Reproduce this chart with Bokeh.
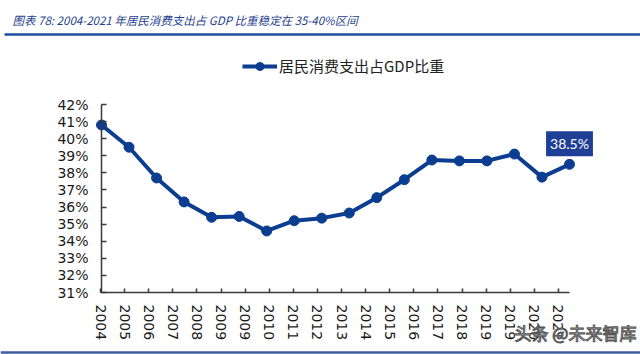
import math
from bokeh.plotting import figure
from bokeh.models import (Range1d, LinearAxis, FixedTicker, PrintfTickFormatter,
                          Legend, LegendItem, Label)
from bokeh.embed import file_html
from bokeh.resources import INLINE

# ---------------- data ----------------
years = [2004, 2005, 2006, 2007, 2008, 2009, 2010, 2011, 2012,
         2013, 2014, 2015, 2016, 2017, 2018, 2019, 2020, 2021]
share = [40.8, 39.5, 37.7, 36.3, 35.4, 35.45, 34.6, 35.2, 35.35,
         35.65, 36.55, 37.6, 38.75, 38.7, 38.7, 39.1, 37.75, 38.5]
axis_labels = ["2004", "2005", "2006", "2007", "2008", "2009", "2009", "2010",
               "2011", "2012", "2013", "2014", "2015", "2016", "2017", "2018",
               "2019", "2019", "2020", "2021"]
y_ticks = [31, 32, 33, 34, 35, 36, 37, 38, 39, 40, 41, 42]
title_text = "图表 78:  2004-2021 年居民消费支出占 GDP 比重稳定在 35-40%区间"
series_name = "居民消费支出占GDP比重"
watermark = "头条 @未来智库"

# ---------------- layout constants (page pixels) ----------------
W, H = 640, 354
PL, PR, PT, PB = 101, 569, 104, 292      # plotting box
LAB0, LAB_STEP = 100, 24.1               # category-label axis placement
TITLE_RULE_Y, BOTTOM_RULE_Y = 34, 352    # decorative rules

BLUE = "#0B3D91"
AX = "#3A3A3A"
TICK_FONT = "DejaVu Sans"

xs = (PR - PL) / (years[-1] - years[0])
ys = (PB - PT) / (y_ticks[-1] - y_ticks[0])
x_range = Range1d(years[0] - PL / xs, years[-1] + (W - PR) / xs)
y_range = Range1d(y_ticks[0] - (H - PB) / ys, y_ticks[-1] + PT / ys)


def page_y(py):
    return y_ticks[-1] + (PT - py) / ys


def page_x(px):
    return years[0] + (px - PL) / xs


p = figure(width=W, height=H, x_range=x_range, y_range=y_range,
           x_axis_type=None, y_axis_type=None, output_backend="svg",
           toolbar_location=None, min_border=0, outline_line_color=None)

# decorative rules (title underline, bottom border)
p.hbar(y=[page_y(TITLE_RULE_Y)], height=2.6 / ys, left=[page_x(4)], right=[page_x(W)],
       fill_color="#1F4E9C", line_color=None)
p.rect(x=[page_x(W / 2)], y=[page_y(BOTTOM_RULE_Y)], width=W, height=2.5,
       width_units="screen", height_units="screen",
       fill_color="#3B5F9F", line_color=None)

# y axis
ya = LinearAxis(fixed_location=years[0], bounds=(y_ticks[0], y_ticks[-1]),
                ticker=FixedTicker(ticks=y_ticks),
                formatter=PrintfTickFormatter(format="%d%%"),
                minor_tick_line_color=None, major_tick_in=5, major_tick_out=0,
                axis_line_color=AX, axis_line_width=1.5,
                major_tick_line_color=AX, major_tick_line_width=1.5,
                major_label_standoff=13, major_label_text_font=TICK_FONT,
                major_label_text_font_size="14px", major_label_text_color="#1A1A1A")
p.add_layout(ya, "left")

# x axis (category labels on their own scale)
p.extra_x_ranges = {"lab": Range1d(-LAB0 / LAB_STEP, (W - LAB0) / LAB_STEP)}
xa = LinearAxis(x_range_name="lab", fixed_location=y_ticks[0],
                bounds=(0, (PR - LAB0) / LAB_STEP),
                ticker=FixedTicker(ticks=list(range(len(axis_labels)))),
                major_label_overrides={i: s for i, s in enumerate(axis_labels)},
                major_label_orientation=-math.pi / 2,
                major_tick_in=4, major_tick_out=0,
                minor_tick_line_color=None,
                axis_line_color=AX, axis_line_width=1.5,
                major_tick_line_color=AX, major_tick_line_width=1.5,
                major_label_standoff=12, major_label_text_font=TICK_FONT,
                major_label_text_font_size="14px", major_label_text_color="#1A1A1A")
p.add_layout(xa, "below")

# series
r_line = p.line(years, share, line_color=BLUE, line_width=4)
r_pts = p.scatter(years, share, size=10, fill_color=BLUE, line_color=BLUE)

legend = Legend(items=[LegendItem(label=series_name, renderers=[r_line, r_pts])],
                location=(242, H - 66 - 10), orientation="horizontal", padding=0,
                margin=0, spacing=0, glyph_width=35, glyph_height=20, label_standoff=2,
                border_line_color=None, background_fill_alpha=0,
                label_text_font="Noto Sans CJK SC",
                label_text_font_size="15px", label_text_color="#222222")
p.add_layout(legend)

last = Label(x=years[-1], y=share[-1], text=f"{share[-1]}%", text_align="center",
             text_baseline="bottom", y_offset=8, padding=4,
             background_fill_color="#1F3F96", text_color="white",
             text_font="Lato", text_font_size="14px")
p.add_layout(last)

# title
p.add_layout(Label(x=12, y=H - 19, x_units="screen", y_units="screen", text=title_text,
                   text_baseline="middle", text_font="Noto Sans CJK SC",
                   text_font_size="11.5px", text_font_style="italic",
                   text_color="#1F3F8F"))

# watermark
p.add_layout(Label(x=514, y=H - 332, x_units="screen", y_units="screen", text=watermark,
                   text_baseline="middle", text_color="white",
                   text_outline_color="#555555",
                   text_font="Noto Sans CJK SC", text_font_size="17px"))

open("out.html", "w").write(file_html(p, INLINE))
